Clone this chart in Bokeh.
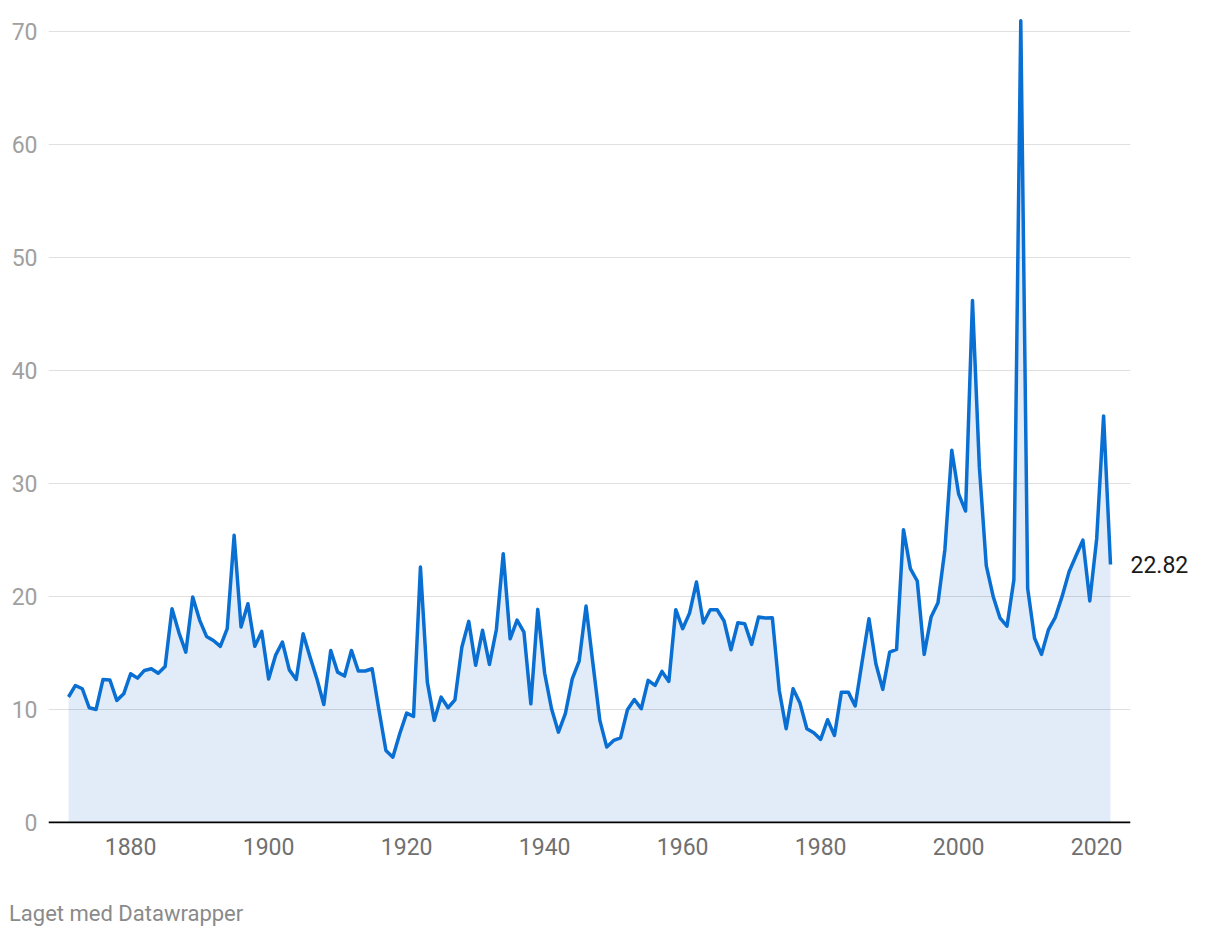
from bokeh.plotting import figure
from bokeh.models import Range1d, FixedTicker, Span, LinearAxis, NumeralTickFormatter, Div
from bokeh.layouts import column
from bokeh.embed import file_html
from bokeh.resources import INLINE

years = list(range(1871, 2023))
pe = [
    11.10, 12.12, 11.83, 10.15, 10.00, 12.65, 12.60, 10.80, 11.38, 13.16,
    12.77, 13.45, 13.60, 13.20, 13.80, 18.90, 16.80, 15.07, 19.94, 17.90,
    16.46, 16.10, 15.58, 17.14, 25.40, 17.30, 19.35, 15.58, 16.90, 12.70,
    14.78, 15.96, 13.50, 12.65, 16.70, 14.63, 12.70, 10.44, 15.22, 13.30,
    12.95, 15.22, 13.40, 13.40, 13.60, 9.90, 6.37, 5.78, 7.85, 9.67,
    9.38, 22.60, 12.42, 9.03, 11.09, 10.15, 10.85, 15.50, 17.79, 13.90,
    17.00, 13.98, 17.05, 23.78, 16.25, 17.90, 16.84, 10.50, 18.85, 13.20,
    10.06, 7.99, 9.62, 12.70, 14.28, 19.14, 14.04, 9.03, 6.67, 7.26,
    7.49, 9.97, 10.88, 10.06, 12.57, 12.12, 13.36, 12.48, 18.82, 17.14,
    18.52, 21.27, 17.64, 18.82, 18.82, 17.82, 15.28, 17.67, 17.58, 15.75,
    18.17, 18.08, 18.10, 11.68, 8.29, 11.83, 10.56, 8.29, 7.93, 7.35,
    9.09, 7.70, 11.53, 11.53, 10.30, 14.19, 18.02, 14.04, 11.77, 15.07,
    15.31, 25.90, 22.45, 21.36, 14.87, 18.17, 19.44, 24.13, 32.92, 29.04,
    27.55, 46.17, 31.43, 22.73, 19.99, 18.07, 17.36, 21.46, 70.91, 20.70,
    16.30, 14.87, 17.03, 18.15, 20.02, 22.18, 23.59, 24.97, 19.60, 25.10,
    35.96, 22.82,
]
x_ticks = [1880, 1900, 1920, 1940, 1960, 1980, 2000, 2020]
y_ticks = [0, 10, 20, 30, 40, 50, 60, 70]
footer = "Laget med Datawrapper"

FONT = "Roboto"
LINE = "#0a6fd2"

p = figure(width=1212, height=868, output_backend="svg", toolbar_location=None,
           x_range=Range1d(1868.1, 2024.9), y_range=Range1d(-0.09, 72.0),
           min_border_left=48, min_border_right=82, min_border_top=8,
           min_border_bottom=45)
p.outline_line_color = None
p.background_fill_color = "white"
p.border_fill_color = "white"

p.varea(x=years, y1=[0] * len(years), y2=pe, fill_color="#e1ecf8", level="image")
p.line(x=years, y=pe, line_color=LINE, line_width=3.5, line_join="round")

p.add_layout(Span(location=0, dimension="width", line_color="black", line_width=2))

p.xgrid.visible = False
p.ygrid.ticker = FixedTicker(ticks=y_ticks)
p.ygrid.grid_line_color = "black"
p.ygrid.grid_line_alpha = 0.12
p.ygrid.grid_line_width = 1.2

xa = p.xaxis[0]
xa.ticker = FixedTicker(ticks=x_ticks)
xa.axis_line_color = None
xa.major_tick_line_color = None
xa.minor_tick_line_color = None
xa.major_tick_out = 0
xa.major_label_standoff = 14
xa.major_label_text_font = FONT
xa.major_label_text_font_size = "23px"
xa.major_label_text_color = "#707070"

ya = p.yaxis[0]
ya.ticker = FixedTicker(ticks=y_ticks)
ya.axis_line_color = None
ya.major_tick_line_color = None
ya.minor_tick_line_color = None
ya.major_tick_out = 0
ya.major_label_standoff = 11
ya.major_label_text_font = FONT
ya.major_label_text_font_size = "23px"
ya.major_label_text_color = "#a0a0a0"

# end-value label, as a right axis with a single tick at the last value
ra = LinearAxis(ticker=FixedTicker(ticks=[pe[-1]]),
                formatter=NumeralTickFormatter(format="0.00"))
ra.axis_line_color = None
ra.major_tick_line_color = None
ra.minor_tick_line_color = None
ra.major_tick_out = 0
ra.major_tick_in = 0
ra.major_label_standoff = 0
ra.major_label_text_font = FONT
ra.major_label_text_font_size = "23px"
ra.major_label_text_color = "#1a1a1a"
p.add_layout(ra, "right")

div = Div(text=footer, margin=(0, 0, 0, 0),
          styles={"font-family": "Roboto", "font-size": "22px", "color": "#8a8a8a",
                  "padding-top": "33px", "padding-left": "9px", "line-height": "1.2"})

layout = column(p, div, spacing=0)
open("out.html", "w").write(file_html(layout, INLINE))
